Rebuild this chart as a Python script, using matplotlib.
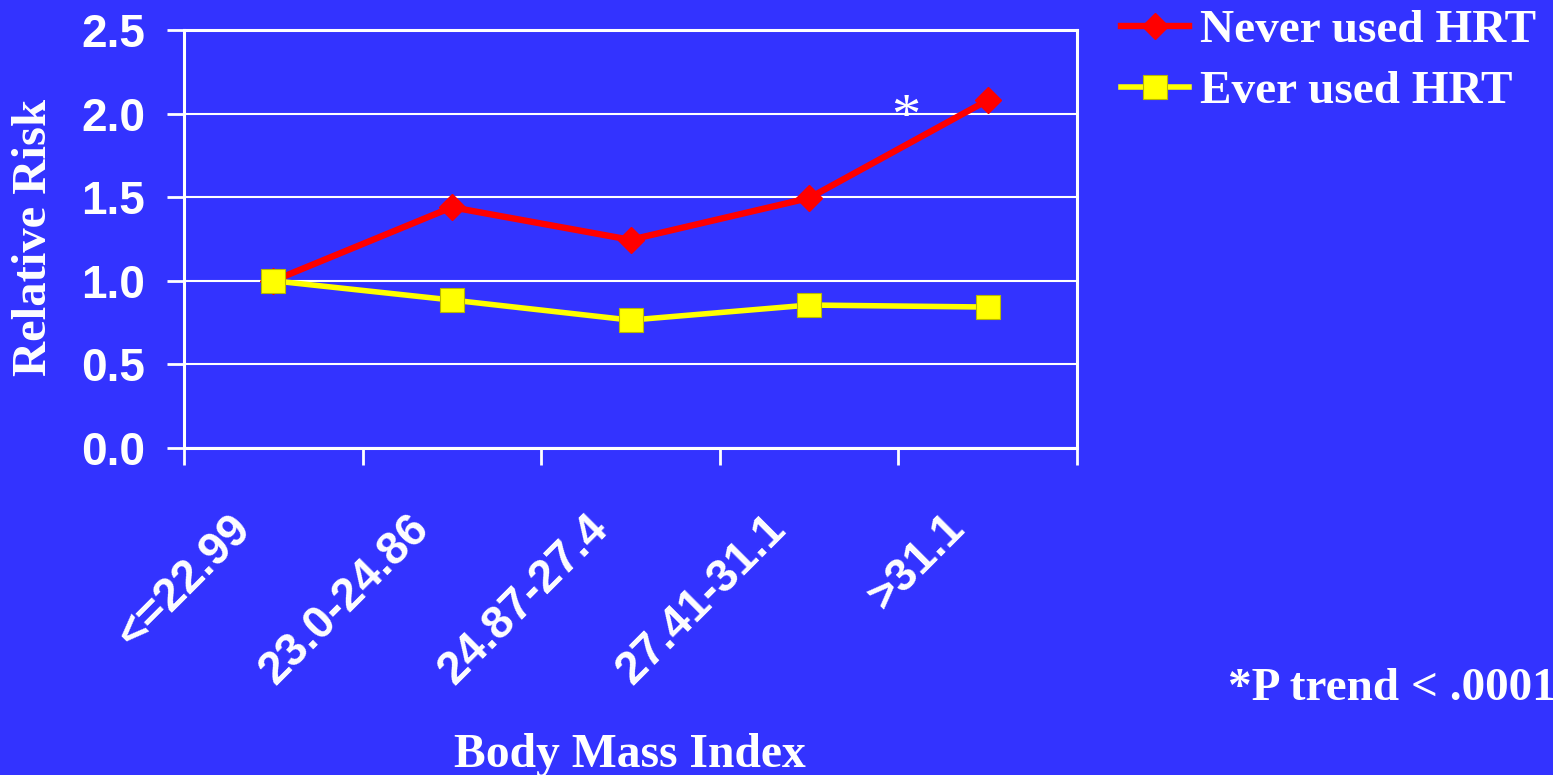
import matplotlib
matplotlib.use("Agg")
import matplotlib.pyplot as plt
import matplotlib.transforms as mtransforms

# data
bmi_groups = ["<=22.99", "23.0-24.86", "24.87-27.4", "27.41-31.1", ">31.1"]
never_hrt = [1.0, 1.44, 1.245, 1.495, 2.08]
ever_hrt = [1.0, 0.885, 0.765, 0.855, 0.843]
y_ticks = [0.0, 0.5, 1.0, 1.5, 2.0, 2.5]

BG = "#3333FF"
serif = ["Liberation Serif", "DejaVu Serif"]
sans = ["Liberation Sans", "DejaVu Sans"]

fig = plt.figure(figsize=(15.53, 7.75), dpi=100, facecolor=BG)
ax = fig.add_axes([184 / 1553, 1 - 448 / 775, (1077 - 184) / 1553, (448 - 30) / 775])
ax.set_facecolor(BG)

x = list(range(len(bmi_groups)))
ax.plot(x, never_hrt, color="#FF0000", lw=4.6, marker="D", ms=13.5,
        mfc="#FF0000", mec="#FF0000", label="Never used HRT", zorder=3)
ax.plot(x, ever_hrt, color="#FFFF00", lw=4.0, marker="s", ms=17,
        mfc="#FFFF00", mec="#B8B800", mew=0.8, label="Ever used HRT", zorder=4)

ax.set_xlim(-0.5, len(bmi_groups) - 0.5)
ax.set_ylim(0, 2.5)
ax.set_yticks(y_ticks)
ax.set_yticklabels(["%.1f" % v for v in y_ticks])
ax.grid(axis="y", color="white", lw=1.5)
ax.set_axisbelow(True)

for s in ax.spines.values():
    s.set_color("white")
    s.set_linewidth(2.2)

ax.tick_params(axis="y", colors="white", length=12, width=2, pad=16,
               labelsize=33)
for lab in ax.get_yticklabels():
    lab.set_fontfamily(sans)
    lab.set_fontweight("bold")

# category boundaries carry the tick marks, labels sit at centres
ax.set_xticks([i - 0.5 for i in range(len(bmi_groups) + 1)], minor=True)
ax.tick_params(axis="x", which="minor", colors="white", length=12, width=2)
ax.set_xticks(x)
ax.set_xticklabels(bmi_groups, rotation=45, ha="right", va="top")
ax.tick_params(axis="x", which="major", length=0, pad=42, labelsize=33,
               colors="white")
shift = mtransforms.ScaledTranslation(-14 / 100, 0, fig.dpi_scale_trans)
for lab in ax.get_xticklabels():
    lab.set_fontfamily(sans)
    lab.set_fontweight("bold")
    lab.set_transform(lab.get_transform() + shift)

ax.text(3.54, 1.97, "*", color="white", fontsize=42, family=serif,
        ha="center", va="center")

fig.text(34 / 1553, 1 - 237 / 775, "Relative Risk", rotation=90, color="white",
         fontsize=35, fontweight="bold", family=serif, ha="center", va="center")
fig.text(630 / 1553, 1 - 767 / 775, "Body Mass Index", color="white",
         fontsize=34.3, fontweight="bold", family=serif, ha="center", va="baseline")
fig.text(1228 / 1553, 1 - 700 / 775, "*P trend < .0001", color="white",
         fontsize=34, fontweight="bold", family=serif, ha="left", va="baseline")

leg = fig.legend(loc="upper left", bbox_to_anchor=(1121 / 1553, 1 - 9 / 775),
                 frameon=False, borderpad=0, borderaxespad=0, handlelength=1.45,
                 handletextpad=0.22, labelspacing=0.38, numpoints=1,
                 prop={"family": serif, "weight": "bold", "size": 34})
for t in leg.get_texts():
    t.set_color("white")

fig.savefig("out.png", dpi=100, facecolor=BG)
